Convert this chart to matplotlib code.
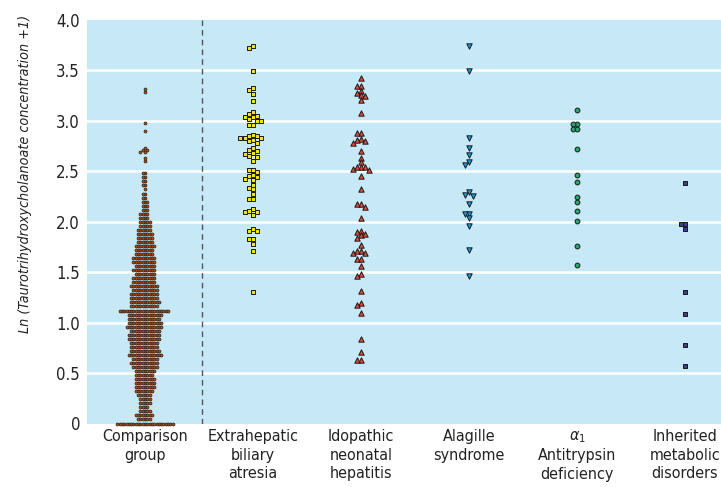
import numpy as np
import matplotlib
matplotlib.use("Agg")
import matplotlib.pyplot as plt

plt.rcParams['font.family'] = ['DejaVu Sans']
plt.rcParams['font.stretch'] = 'condensed'
plt.rcParams['mathtext.fontset'] = 'dejavusans'

categories = ["Comparison\ngroup", "Extrahepatic\nbiliary\natresia",
              "Idopathic\nneonatal\nhepatitis", "Alagille\nsyndrome",
              "$\\alpha_1$\nAntitrypsin\ndeficiency",
              "Inherited\nmetabolic\ndisorders"]

# comparison group: value levels and number of children at each level
comp_levels = [0.00, 0.04, 0.08, 0.12, 0.16, 0.20, 0.24, 0.28, 0.32, 0.36,
               0.40, 0.44, 0.48, 0.52, 0.56, 0.60, 0.64, 0.68, 0.72, 0.76,
               0.80, 0.84, 0.88, 0.92, 0.96, 1.00, 1.04, 1.08, 1.12, 1.16,
               1.20, 1.24, 1.28, 1.32, 1.36, 1.40, 1.44, 1.48, 1.52, 1.56,
               1.60, 1.64, 1.68, 1.72, 1.76, 1.80, 1.84, 1.88, 1.92, 1.96,
               2.00, 2.04, 2.08, 2.12, 2.16, 2.20, 2.24, 2.28, 2.32, 2.36,
               2.40, 2.44, 2.48, 2.60, 2.63, 2.69, 2.71, 2.73, 2.90, 2.98,
               3.29, 3.32]
comp_counts = [25, 6, 8, 5, 4, 5, 5, 6, 8, 9,
               9, 9, 8, 9, 11, 12, 11, 15, 13, 12,
               12, 14, 14, 13, 16, 15, 14, 15, 22, 12,
               13, 12, 12, 11, 12, 10, 10, 9, 10, 9,
               10, 10, 8, 8, 9, 7, 7, 7, 6, 5,
               5, 4, 4, 3, 3, 3, 2, 2, 1, 2,
               2, 2, 2, 1, 1, 2, 2, 1, 1, 1,
               1, 1]

extrahepatic = [3.745, 3.725, 3.494, 3.325, 3.305, 3.268, 3.196, 3.087, 3.067,
                3.037, 3.047, 3.02, 3.037, 3.0, 3.0, 2.955, 2.955, 2.859, 2.832,
                2.832, 2.832, 2.852, 2.855, 2.802, 2.809, 2.782, 2.733, 2.703,
                2.713, 2.683, 2.673, 2.653, 2.643, 2.603, 2.514, 2.514, 2.491,
                2.452, 2.462, 2.442, 2.425, 2.412, 2.365, 2.336, 2.32, 2.276,
                2.223, 2.223, 2.131, 2.094, 2.111, 2.094, 2.071, 1.926, 1.906,
                1.909, 1.83, 1.83, 1.78, 1.707, 1.30]
idiopathic = [3.427, 3.345, 3.345, 3.298, 3.272, 3.252, 3.249, 3.206, 3.074,
              2.882, 2.882, 2.819, 2.799, 2.806, 2.779, 2.703, 2.634, 2.59,
              2.544, 2.524, 2.538, 2.544, 2.511, 2.458, 2.329, 2.174, 2.174,
              2.144, 2.035, 1.913, 1.899, 1.869, 1.883, 1.843, 1.774, 1.714,
              1.687, 1.69, 1.707, 1.635, 1.635, 1.562, 1.486, 1.466, 1.317,
              1.191, 1.174, 1.099, 0.837, 0.711, 0.625, 0.625]
alagille = [3.745, 3.491, 2.826, 2.733, 2.66, 2.59, 2.561, 2.29, 2.27, 2.26,
            2.174, 2.081, 2.081, 2.038, 1.958, 1.724, 1.462]
antitrypsin = [3.11, 2.965, 2.965, 2.915, 2.918, 2.72, 2.462, 2.392, 2.246,
               2.194, 2.104, 2.012, 1.757, 1.571]
inherited = [2.385, 1.978, 1.978, 1.932, 1.304, 1.089, 0.778, 0.569]

PX_X = 108.0    # pixels per category unit
PX_Y = 100.75   # pixels per y unit


def swarm(values, size_px, step_px):
    vals = np.asarray(values, float)
    order = np.argsort(-vals, kind="stable")
    placed = []
    offs = np.zeros(len(vals))
    for i in order:
        y = vals[i] * PX_Y
        k = 0
        while True:
            done = False
            for cand in ([0] if k == 0 else [-k, k]):
                x = cand * step_px
                if all(abs(x - px) >= size_px - 0.01 or abs(y - py) >= size_px - 0.01
                       for px, py in placed):
                    offs[i] = x / PX_X
                    placed.append((x, y))
                    done = True
                    break
            if done:
                break
            k += 1
    return offs


fig = plt.figure(figsize=(7.21, 4.87), dpi=100)
ax = fig.add_axes([87 / 721, 1 - 423.5 / 487, 1 - 87 / 721, (423.5 - 20) / 487])
ax.set_facecolor("#c6e8f7")

for s in ax.spines.values():
    s.set_visible(False)

ax.set_xlim(-0.537, 5.333)
ax.set_ylim(0, 4.0)
ax.set_yticks(np.arange(0, 4.01, 0.5))
ax.set_yticklabels(["0"] + ["%.1f" % v for v in np.arange(0.5, 4.01, 0.5)])
ax.set_xticks(range(len(categories)))
ax.set_xticklabels(categories, linespacing=1.3)
ax.tick_params(axis="both", length=0, colors="#222222")
ax.tick_params(axis="y", pad=5, labelsize=12)
ax.tick_params(axis="x", pad=4, labelsize=11.5)
for y in np.arange(0.5, 3.6, 0.5):
    ax.axhline(y, color="white", lw=1.8, zorder=1)
ax.axvline(0.53, color="#555555", lw=1.0, ls=(0, (4, 3)), zorder=2)

comp = np.repeat(comp_levels, comp_counts)
ax.scatter(0 + swarm(comp, 2.3, 2.3), comp, s=4.5, marker="o",
           facecolor="#a8521c", edgecolor="#2b2118", linewidth=0.5,
           zorder=3, clip_on=False)

groups = [
    (1, extrahepatic, "s", "#f4e41c", 10, 4.2),
    (2, idiopathic, "^", "#e5483c", 15, 4.2),
    (3, alagille, "v", "#1e9ad8", 15, 3.8),
    (4, antitrypsin, "o", "#2aa66e", 12, 4.2),
    (5, inherited, "s", "#3d3f8e", 10, 4.2),
]
for pos, vals, mk, col, area, gap in groups:
    ax.scatter(pos + swarm(vals, gap, gap), vals, s=area, marker=mk,
               facecolor=col, edgecolor="#1a1a1a", linewidth=0.7, zorder=3)

fig.text(25 / 721, 1 - 174 / 487,
         "Ln (Taurotrihydroxycholanoate concentration +1)",
         rotation=90, ha="center", va="center", fontsize=10.3,
         style="italic", color="#222222")

fig.savefig("out.png", dpi=100)
